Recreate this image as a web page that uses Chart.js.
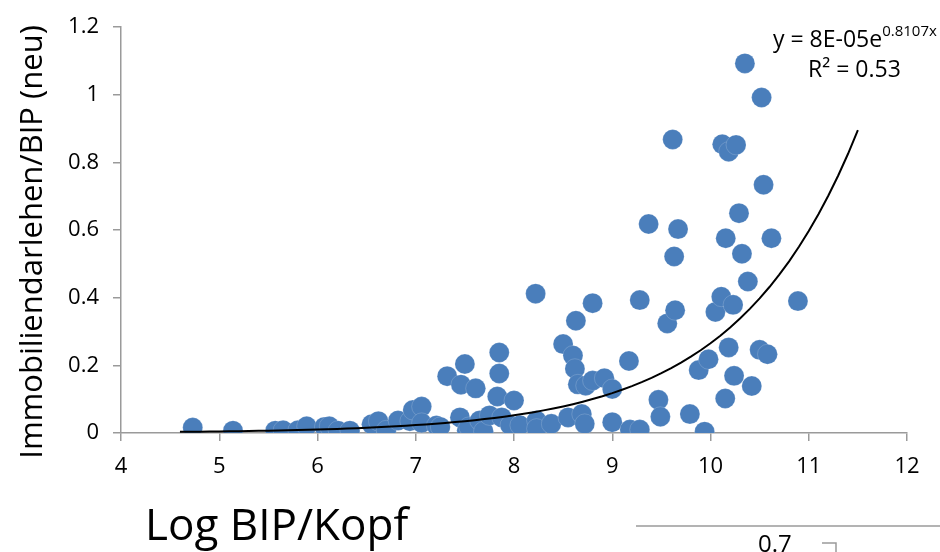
<!DOCTYPE html>
<html>
<head>
<meta charset="utf-8">
<script src="https://cdn.jsdelivr.net/npm/chart.js@4/dist/chart.umd.min.js"></script>
<style>
  html, body { margin: 0; padding: 0; background: #fff; }
  #wrap { width: 940px; height: 552px; }
</style>
</head>
<body>
<div id="wrap"><canvas id="myChart" width="940" height="552"></canvas></div>
<script>
// Log BIP/Kopf (x) gegen Immobiliendarlehen/BIP (y)
var logBip = [4.73, 5.14, 5.57, 5.65, 5.80, 5.89, 6.07, 6.12, 6.21, 6.33,
  6.55, 6.62, 6.70, 6.82, 6.94, 6.97, 7.06, 7.06, 7.21, 7.25,
  7.32, 7.45, 7.46, 7.50, 7.52, 7.54, 7.61, 7.65, 7.69, 7.75,
  7.83, 7.85, 7.85, 7.875, 7.96, 8.00, 8.06, 8.22, 8.23, 8.23,
  8.38, 8.50, 8.55, 8.60, 8.62, 8.63, 8.65, 8.69, 8.72, 8.73,
  8.80, 8.80, 8.92, 9.00, 9.00, 9.17, 9.18, 9.28, 9.28, 9.37,
  9.47, 9.49, 9.56, 9.615, 9.63, 9.64, 9.67, 9.79, 9.88, 9.94,
  9.98, 10.05, 10.11, 10.12, 10.15, 10.155, 10.185, 10.185, 10.23, 10.24,
  10.26, 10.29, 10.32, 10.35, 10.38, 10.42, 10.50, 10.52, 10.54, 10.58,
  10.62, 10.89];
var darlehen = [0.016, 0.007, 0.007, 0.008, 0.008, 0.02, 0.018, 0.02, 0.007, 0.007,
  0.026, 0.035, 0.008, 0.037, 0.035, 0.068, 0.078, 0.03, 0.022, 0.018,
  0.168, 0.046, 0.143, 0.204, 0.008, 0.018, 0.132, 0.037, 0.005, 0.052,
  0.108, 0.238, 0.176, 0.046, 0.023, 0.096, 0.023, 0.412, 0.037, 0.013,
  0.027, 0.263, 0.046, 0.229, 0.19, 0.332, 0.144, 0.056, 0.027, 0.14,
  0.384, 0.155, 0.162, 0.13, 0.032, 0.213, 0.010, 0.393, 0.010, 0.618,
  0.098, 0.048, 0.324, 0.868, 0.522, 0.363, 0.603, 0.056, 0.186, 0.004,
  0.218, 0.358, 0.403, 0.854, 0.102, 0.576, 0.832, 0.253, 0.379, 0.169,
  0.852, 0.650, 0.530, 1.093, 0.448, 0.139, 0.246, 0.992, 0.734, 0.233,
  0.576, 0.390];

// Trendlinie laut Gleichung im Bild: y = 8E-05 e^(0.8107x)
var trendA = 8e-5;
var trendB = 0.8107;
var trendVon = 4.6;
var trendBis = 11.5;

var xTicks = [4, 5, 6, 7, 8, 9, 10, 11, 12];
var yTicks = [0, 0.2, 0.4, 0.6, 0.8, 1, 1.2];

var punkte = [];
for (var i = 0; i < logBip.length; i++) {
  punkte.push({ x: logBip[i], y: darlehen[i] });
}
var trend = [];
for (var k = 0; k <= 69; k++) {
  var tx = trendVon + (trendBis - trendVon) * k / 69;
  trend.push({ x: tx, y: trendA * Math.exp(trendB * tx) });
}

var grau = "#9a9a9a";
var schrift = "'Open Sans', sans-serif";

// Texte: Achsentitel, Gleichung, Reste vom Nachbardiagramm unten rechts
var texte = {
  id: "texte",
  afterDraw: function (chart) {
    var ctx = chart.ctx;
    ctx.save();
    ctx.fillStyle = "#000";
    ctx.textBaseline = "middle";
    ctx.textAlign = "center";
    ctx.font = "31px " + schrift;
    ctx.translate(33, 242);
    ctx.rotate(-Math.PI / 2);
    ctx.fillText("Immobiliendarlehen/BIP (neu)", 0, 0);
    ctx.restore();

    ctx.save();
    ctx.fillStyle = "#000";
    ctx.textBaseline = "alphabetic";
    ctx.textAlign = "left";
    ctx.font = "44px " + schrift;
    ctx.fillText("Log BIP/Kopf", 145, 540);

    ctx.font = "23px " + schrift;
    ctx.fillText("y = 8E-05e", 773, 47);
    var w = ctx.measureText("y = 8E-05e").width;
    ctx.font = "15px " + schrift;
    ctx.fillText("0.8107x", 773 + w, 36);
    ctx.font = "23px " + schrift;
    ctx.fillText("R\u00b2 = 0.53", 808, 77);

    ctx.font = "24px " + schrift;
    ctx.fillText("0.7", 758, 552);
    ctx.strokeStyle = grau;
    ctx.lineWidth = 1.5;
    ctx.beginPath();
    ctx.moveTo(636, 526);
    ctx.lineTo(940, 526);
    ctx.moveTo(822, 543);
    ctx.lineTo(836, 543);
    ctx.lineTo(836, 552);
    ctx.stroke();
    ctx.restore();
  }
};

new Chart("myChart", {
  type: "scatter",
  data: {
    datasets: [{
      data: punkte,
      backgroundColor: "#4a7ebb",
      borderColor: "rgba(255,255,255,0.35)",
      borderWidth: 0.5,
      pointRadius: 10,
      pointHoverRadius: 10,
      order: 2
    }, {
      type: "line",
      data: trend,
      borderColor: "#000",
      borderWidth: 2,
      pointRadius: 0,
      fill: false,
      tension: 0,
      order: 1
    }]
  },
  plugins: [texte],
  options: {
    responsive: false,
    animation: false,
    layout: { autoPadding: false, padding: { top: 9, right: 33, left: 0, bottom: 0 } },
    plugins: { legend: { display: false }, tooltip: { enabled: false } },
    scales: {
      x: {
        type: "linear",
        min: 4,
        max: 12,
        afterFit: function (s) { s.height = 119; },
        afterBuildTicks: function (s) { s.ticks = xTicks.map(function (v) { return { value: v }; }); },
        ticks: { color: "#000", font: { family: schrift, size: 22 }, padding: 13 },
        grid: { drawOnChartArea: false, drawTicks: true, tickLength: 8, color: grau, lineWidth: 1.5 },
        border: { color: grau, width: 1.5 }
      },
      y: {
        min: 0,
        max: 1.2,
        afterFit: function (s) { s.width = 121; },
        afterBuildTicks: function (s) { s.ticks = yTicks.map(function (v) { return { value: v }; }); },
        ticks: {
          color: "#000", font: { family: schrift, size: 22 }, padding: 14,
          callback: function (v) { return String(v); }
        },
        grid: { drawOnChartArea: false, drawTicks: true, tickLength: 8, color: grau, lineWidth: 1.5 },
        border: { color: grau, width: 1.5 }
      }
    }
  }
});
</script>
</body>
</html>
